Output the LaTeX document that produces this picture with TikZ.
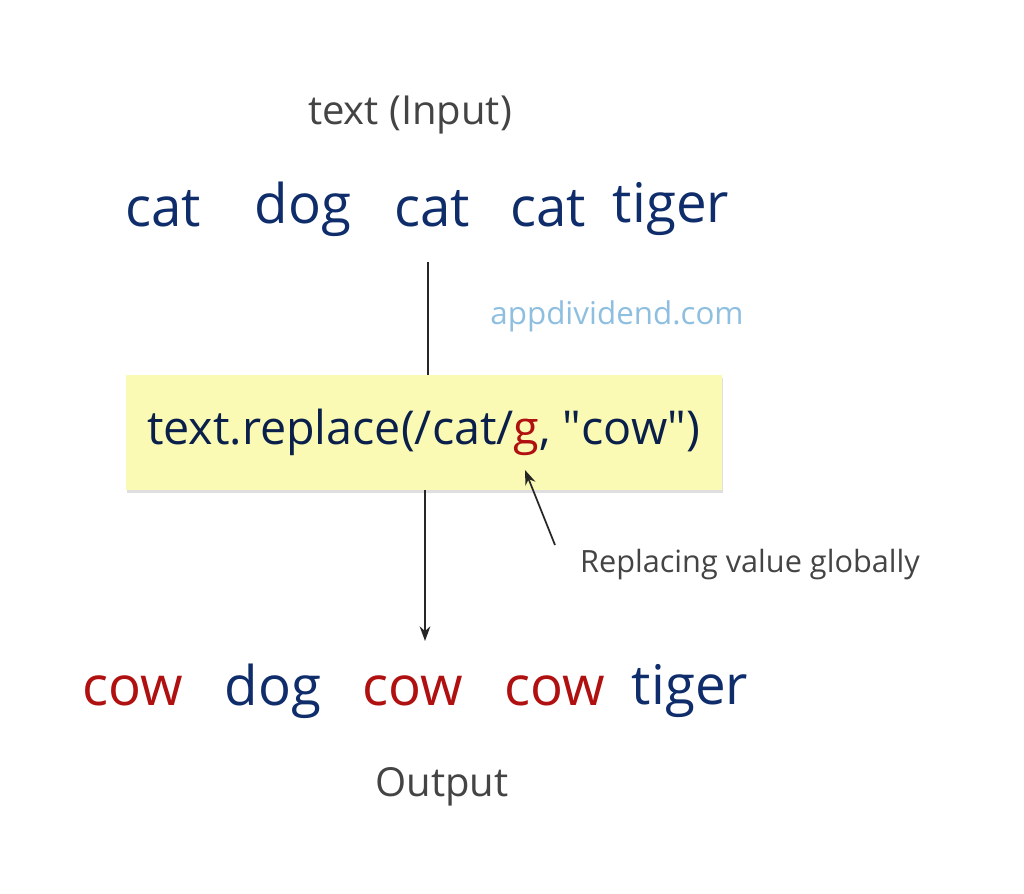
\documentclass[tikz,border=0pt]{standalone}
\usepackage{fontspec}
\setmainfont{Open Sans}
\newfontfamily\rawfont{Open Sans}
\usetikzlibrary{arrows.meta,shadows}
\definecolor{navy}{HTML}{0F2D6B}
\definecolor{wred}{HTML}{B01010}
\definecolor{lab}{HTML}{444444}
\definecolor{site}{HTML}{8FBFE0}
\definecolor{boxy}{HTML}{FAFAB4}
\tikzset{word/.style={font=\fontsize{41}{48}\selectfont},
 lbl/.style={text=lab,font=\fontsize{30}{36}\selectfont},
 conn/.style={draw=black!85,line width=1.3pt}}
\begin{document}
\begin{tikzpicture}[x=0.75pt,y=-0.75pt]
\useasboundingbox[fill=white] (0,0) rectangle (1024,893);
\node[lbl] (in) at (410,115) {text (Input)};
\node[word,text=navy] (w1) at (163,209) {cat};
\node[word,text=navy] (w2) at (303,209) {dog};
\node[word,text=navy] (w3) at (432,209) {cat};
\node[word,text=navy] (w4) at (548,209) {cat};
\node[word,text=navy] (w5) at (671,209) {tiger};
\node[text=site,font=\fontsize{23.5}{28}\selectfont] (site) at (617,316) {appdividend.com};
\node[fill=boxy,minimum width=447pt,minimum height=86pt,drop shadow={opacity=0.25,shadow xshift=1pt,shadow yshift=-2pt},text=navy!70!black,font=\fontsize{35}{42}\selectfont] (box) at (423.5,432.5) {text.replace(/cat/\textcolor{wred}{g}, {\rawfont"}cow{\rawfont"})};
\coordinate (top) at (428,262);
\draw[conn] (top) -- (428,375);
\coordinate (gpt) at (525,470);
\coordinate (gtail) at (555,545);
\draw[conn,-{Stealth[length=11pt,width=8pt]}] (gtail) -- (gpt);
\node[text=lab,font=\fontsize{23}{28}\selectfont] (rep) at (750,565) {Replacing value globally};
\node[word,text=wred] (o1) at (133,691) {cow};
\node[word,text=navy] (o2) at (273,691) {dog};
\node[word,text=wred] (o3) at (413,691) {cow};
\node[word,text=wred] (o4) at (555,691) {cow};
\node[word,text=navy] (o5) at (690,691) {tiger};
\coordinate (bot) at (425,641);
\draw[conn,-{Stealth[length=11pt,width=8pt]}] (box.south -| bot) -- (bot);
\node[lbl] (out) at (442,787) {Output};
\end{tikzpicture}
\end{document}
